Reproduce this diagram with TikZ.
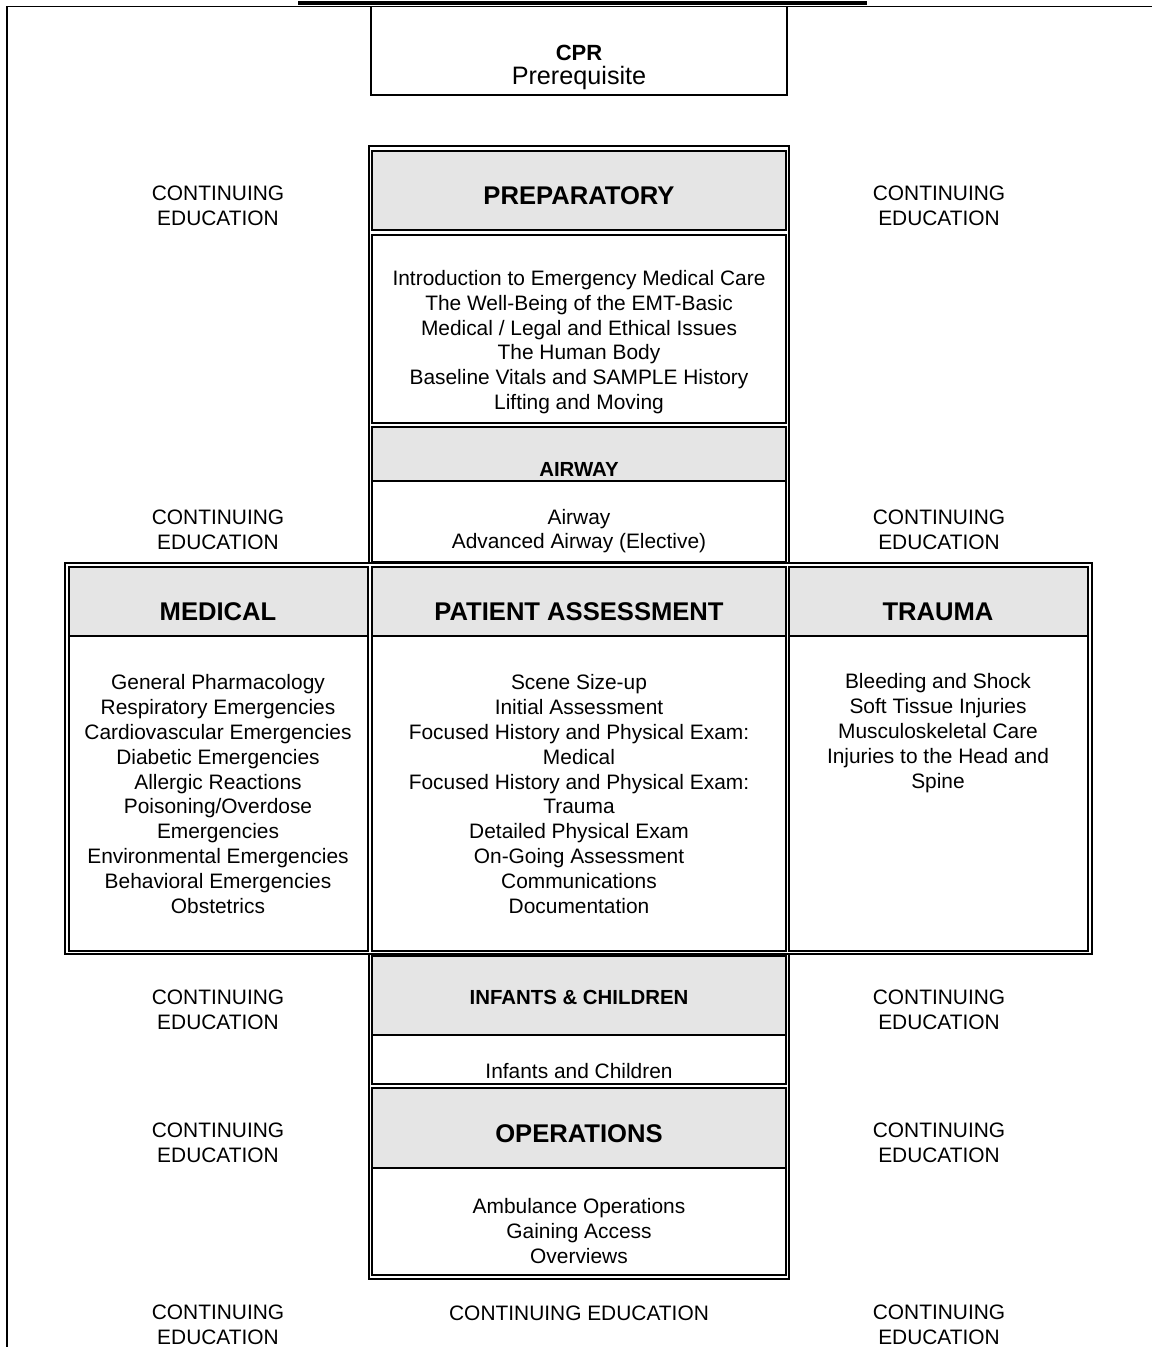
\documentclass[tikz,border=0pt]{standalone}
\usepackage{fontspec}
\setmainfont{Liberation Sans}
\definecolor{hdr}{RGB}{229,229,229}
\begin{document}
\begin{tikzpicture}[x=0.5pt,y=-0.5pt,
  line width=0.75pt,
  body/.style={font=\fontsize{10.45}{12.4}\selectfont, align=center, inner sep=0pt},
  head/.style={font=\fontsize{12.8}{15}\selectfont\bfseries, inner sep=0pt},
  subhead/.style={font=\fontsize{10.2}{12}\selectfont\bfseries, inner sep=0pt},
  cpr/.style={font=\fontsize{11}{13}\selectfont\bfseries, inner sep=0pt},
  prereq/.style={font=\fontsize{12.6}{15}\selectfont, inner sep=0pt},
  cellbox/.style={draw=black, line width=0.75pt},
  shade/.style={fill=hdr}]
\useasboundingbox (0,0) rectangle (1152,1347);

% ---- page frame lines ----
\fill (298,1) rectangle (867,4.8);
\draw[line width=0.7pt] (7,6.5) -- (1152,6.5);
\draw[line width=0.7pt] (7,6.5) -- (7,1347);

% ---- CPR box ----
\draw[cellbox] (371,6.5) rectangle (787,95);
\node[cpr] (cpr) at (579,53) {CPR};
\node[prereq] (prereq) at (579,78) {Prerequisite};

% ---- shaded headers ----
\fill[shade] (372,151) rectangle (786,230);
\fill[shade] (372,427) rectangle (786,481);
\fill[shade] (69,567) rectangle (368,636);
\fill[shade] (372,567) rectangle (786,636);
\fill[shade] (789,567) rectangle (1088,636);
\fill[shade] (372,956) rectangle (786,1035);
\fill[shade] (372,1088) rectangle (786,1168);

% ---- upper table ----
\draw[cellbox] (369,146) rectangle (789,563);
\draw[cellbox] (372,151) rectangle (786,230);
\draw[cellbox] (372,235) rectangle (786,423);
\draw[cellbox] (372,427) rectangle (786,562);
\draw[cellbox] (372,481) -- (786,481);

% ---- middle table ----
\draw[cellbox] (65,563) rectangle (1092,954);
\draw[cellbox] (69,567) rectangle (368,951);
\draw[cellbox] (69,636) -- (368,636);
\draw[cellbox] (372,567) rectangle (786,951);
\draw[cellbox] (372,636) -- (786,636);
\draw[cellbox] (789,567) rectangle (1088,951);
\draw[cellbox] (789,636) -- (1088,636);

% ---- lower table ----
\draw[cellbox] (369,954) rectangle (789,1279);
\draw[cellbox] (372,956) rectangle (786,1084);
\draw[cellbox] (372,1035) -- (786,1035);
\draw[cellbox] (372,1088) rectangle (786,1275);
\draw[cellbox] (372,1168) -- (786,1168);

% ---- headings ----
\node[head] (prepH) at (579,196) {PREPARATORY};
\node[subhead] (airH) at (579,469) {AIRWAY};
\node[head] (medH) at (218,612) {MEDICAL};
\node[head] (paH) at (579,612) {PATIENT ASSESSMENT};
\node[head] (trH) at (938,612) {TRAUMA};
\node[subhead] (infH) at (579,997) {INFANTS \& CHILDREN};
\node[head] (opsH) at (579,1134) {OPERATIONS};

% ---- contents ----
\node[body] (prepT) at (579,342) {Introduction to Emergency Medical Care\\The Well-Being of the EMT-Basic\\Medical / Legal and Ethical Issues\\The Human Body\\Baseline Vitals and SAMPLE History\\Lifting and Moving};
\node[body] (airT) at (579,531) {Airway\\Advanced Airway (Elective)};
\node[body] (medT) at (218,794) {General Pharmacology\\Respiratory Emergencies\\Cardiovascular Emergencies\\Diabetic Emergencies\\Allergic Reactions\\Poisoning/Overdose\\Emergencies\\Environmental Emergencies\\Behavioral Emergencies\\Obstetrics};
\node[body] (paT) at (579,794) {Scene Size-up\\Initial Assessment\\Focused History and Physical Exam:\\Medical\\Focused History and Physical Exam:\\Trauma\\Detailed Physical Exam\\On-Going Assessment\\Communications\\Documentation};
\node[body, anchor=north] (trT) at (938,673) {Bleeding and Shock\\Soft Tissue Injuries\\Musculoskeletal Care\\Injuries to the Head and\\Spine};
\node[body] (infT) at (579,1071) {Infants and Children};
\node[body] (opsT) at (579,1231) {Ambulance Operations\\Gaining Access\\Overviews};

% ---- continuing education ----
\node[body] (ceL1) at (218,206) {CONTINUING\\EDUCATION};
\node[body] (ceR1) at (939,206) {CONTINUING\\EDUCATION};
\node[body] (ceL2) at (218,530) {CONTINUING\\EDUCATION};
\node[body] (ceR2) at (939,530) {CONTINUING\\EDUCATION};
\node[body] (ceL3) at (218,1010) {CONTINUING\\EDUCATION};
\node[body] (ceR3) at (939,1010) {CONTINUING\\EDUCATION};
\node[body] (ceL4) at (218,1143) {CONTINUING\\EDUCATION};
\node[body] (ceR4) at (939,1143) {CONTINUING\\EDUCATION};
\node[body] (ceL5) at (218,1325) {CONTINUING\\EDUCATION};
\node[body] (ceR5) at (939,1325) {CONTINUING\\EDUCATION};
\node[body] (ceC) at (579,1313) {CONTINUING EDUCATION};
\end{tikzpicture}
\end{document}
